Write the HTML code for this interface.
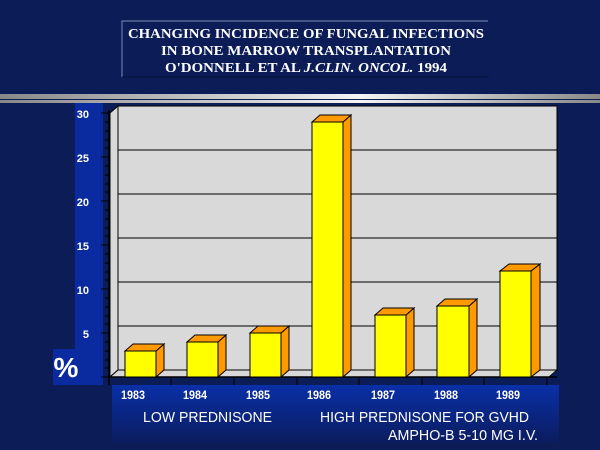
<!DOCTYPE html>
<html><head><style>
body{margin:0;width:600px;height:450px;overflow:hidden;background:#0b1c56;}
</style></head><body>
<svg width="600" height="450" xmlns="http://www.w3.org/2000/svg" style="position:absolute;left:0;top:0">
<defs>
<linearGradient id="sep" x1="0" x2="1"><stop offset="0" stop-color="#888"/><stop offset="0.6" stop-color="#f4f4f4"/><stop offset="1" stop-color="#888"/></linearGradient>
<linearGradient id="bot" x1="0" y1="0" x2="0" y2="1"><stop offset="0" stop-color="#0a30a8"/><stop offset="1" stop-color="#0b1c5e"/></linearGradient>
</defs>
<rect x="0" y="0" width="600" height="450" fill="#0b1c56"/>
<polyline points="122,77 122,21 488,21" fill="none" stroke="#7f8cb8" stroke-width="1"/>
<line x1="122" y1="77" x2="489" y2="77" stroke="#05103a"/>
<g font-family="Liberation Serif, serif" font-weight="bold" font-size="14" fill="#fff" text-anchor="middle">
<text x="306" y="38" textLength="356" lengthAdjust="spacingAndGlyphs">CHANGING INCIDENCE OF FUNGAL INFECTIONS</text>
<text x="306" y="55" textLength="290" lengthAdjust="spacingAndGlyphs">IN BONE MARROW TRANSPLANTATION</text>
<text x="306" y="72" textLength="282" lengthAdjust="spacingAndGlyphs">O'DONNELL ET AL <tspan font-style="italic">J.CLIN. ONCOL.</tspan> 1994</text>
</g>
<rect x="0" y="94" width="600" height="5" fill="url(#sep)"/>
<rect x="0" y="100" width="600" height="3" fill="url(#sep)"/>
<rect x="75" y="103" width="28" height="282" fill="#0a2aa0"/>
<rect x="53" y="349" width="22" height="36" fill="#0a2aa0"/>
<text x="66" y="377" font-family="Liberation Sans, sans-serif" font-weight="bold" font-size="28" fill="#fff" text-anchor="middle">%</text>
<g font-family="Liberation Sans, sans-serif" font-weight="bold" font-size="11" fill="#fff" text-anchor="end">
<text x="89" y="118">30</text><text x="89" y="162">25</text><text x="89" y="206">20</text>
<text x="89" y="250">15</text><text x="89" y="294">10</text><text x="89" y="338">5</text>
</g>
<rect x="103" y="103" width="460" height="282" fill="#0b1c56"/>
<polygon points="110,113 118,106 118,370 110,377" fill="#d8d8d8" stroke="#000" stroke-width="1"/>
<rect x="118" y="106" width="439" height="264" fill="#d9d9d9" stroke="#000" stroke-width="1"/>
<polygon points="110,377 118,370 557,370 549,377" fill="#d8d8d8" stroke="#000" stroke-width="1"/>
<g stroke="#000" stroke-width="1">
<line x1="118" y1="150" x2="557" y2="150"/><line x1="118" y1="194" x2="557" y2="194"/>
<line x1="118" y1="238" x2="557" y2="238"/><line x1="118" y1="282" x2="557" y2="282"/>
<line x1="118" y1="326" x2="557" y2="326"/>
</g>
<rect x="110" y="377" width="447" height="8" fill="#0b1c56"/>
<line x1="109" y1="110" x2="109" y2="385" stroke="#000" stroke-width="1.5"/>
<line x1="109" y1="377" x2="557" y2="377" stroke="#000" stroke-width="1.5"/>
<g stroke="#000" stroke-width="1">
<line x1="101" y1="113" x2="109" y2="113"/><line x1="101" y1="157" x2="109" y2="157"/>
<line x1="101" y1="201" x2="109" y2="201"/><line x1="101" y1="245" x2="109" y2="245"/>
<line x1="101" y1="289" x2="109" y2="289"/><line x1="101" y1="333" x2="109" y2="333"/>
<line x1="101" y1="377" x2="109" y2="377"/>
<line x1="105" y1="122" x2="109" y2="122"/><line x1="105" y1="131" x2="109" y2="131"/><line x1="105" y1="140" x2="109" y2="140"/><line x1="105" y1="148" x2="109" y2="148"/>
<line x1="105" y1="166" x2="109" y2="166"/><line x1="105" y1="175" x2="109" y2="175"/><line x1="105" y1="184" x2="109" y2="184"/><line x1="105" y1="192" x2="109" y2="192"/>
<line x1="105" y1="210" x2="109" y2="210"/><line x1="105" y1="219" x2="109" y2="219"/><line x1="105" y1="228" x2="109" y2="228"/><line x1="105" y1="236" x2="109" y2="236"/>
<line x1="105" y1="254" x2="109" y2="254"/><line x1="105" y1="263" x2="109" y2="263"/><line x1="105" y1="272" x2="109" y2="272"/><line x1="105" y1="280" x2="109" y2="280"/>
<line x1="105" y1="298" x2="109" y2="298"/><line x1="105" y1="307" x2="109" y2="307"/><line x1="105" y1="316" x2="109" y2="316"/><line x1="105" y1="324" x2="109" y2="324"/>
<line x1="105" y1="342" x2="109" y2="342"/><line x1="105" y1="351" x2="109" y2="351"/><line x1="105" y1="360" x2="109" y2="360"/><line x1="105" y1="368" x2="109" y2="368"/>
<line x1="171" y1="377" x2="171" y2="385"/><line x1="234" y1="377" x2="234" y2="385"/><line x1="297" y1="377" x2="297" y2="385"/>
<line x1="359" y1="377" x2="359" y2="385"/><line x1="422" y1="377" x2="422" y2="385"/><line x1="484" y1="377" x2="484" y2="385"/><line x1="547" y1="377" x2="547" y2="385"/>
</g>
<g stroke="#000" stroke-width="1">
<g><polygon points="156,351 164,344 164,370 156,377" fill="#ff9900"/><polygon points="125,351 133,344 164,344 156,351" fill="#ff9900"/><rect x="125" y="351" width="31" height="26" fill="#ffff00"/></g>
<g><polygon points="218,342 226,335 226,370 218,377" fill="#ff9900"/><polygon points="187,342 195,335 226,335 218,342" fill="#ff9900"/><rect x="187" y="342" width="31" height="35" fill="#ffff00"/></g>
<g><polygon points="281,333 289,326 289,370 281,377" fill="#ff9900"/><polygon points="250,333 258,326 289,326 281,333" fill="#ff9900"/><rect x="250" y="333" width="31" height="44" fill="#ffff00"/></g>
<g><polygon points="343,122 351,115 351,370 343,377" fill="#ff9900"/><polygon points="312,122 320,115 351,115 343,122" fill="#ff9900"/><rect x="312" y="122" width="31" height="255" fill="#ffff00"/></g>
<g><polygon points="406,315 414,308 414,370 406,377" fill="#ff9900"/><polygon points="375,315 383,308 414,308 406,315" fill="#ff9900"/><rect x="375" y="315" width="31" height="62" fill="#ffff00"/></g>
<g><polygon points="469,306 477,299 477,370 469,377" fill="#ff9900"/><polygon points="437,306 445,299 477,299 469,306" fill="#ff9900"/><rect x="437" y="306" width="32" height="71" fill="#ffff00"/></g>
<g><polygon points="531,271 540,264 540,370 531,377" fill="#ff9900"/><polygon points="500,271 509,264 540,264 531,271" fill="#ff9900"/><rect x="500" y="271" width="31" height="106" fill="#ffff00"/></g>
</g>
<rect x="112" y="385" width="447" height="58" fill="url(#bot)"/>
<g font-family="Liberation Sans, sans-serif" font-weight="bold" font-size="12" fill="#fff" text-anchor="middle">
<text x="133" y="399" textLength="24" lengthAdjust="spacingAndGlyphs">1983</text><text x="195" y="399" textLength="24" lengthAdjust="spacingAndGlyphs">1984</text><text x="258" y="399" textLength="24" lengthAdjust="spacingAndGlyphs">1985</text>
<text x="319" y="399" textLength="24" lengthAdjust="spacingAndGlyphs">1986</text><text x="383" y="399" textLength="24" lengthAdjust="spacingAndGlyphs">1987</text><text x="446" y="399" textLength="24" lengthAdjust="spacingAndGlyphs">1988</text><text x="508" y="399" textLength="24" lengthAdjust="spacingAndGlyphs">1989</text>
</g>
<g font-family="Liberation Sans, sans-serif" font-size="15" fill="#fff">
<text x="143" y="422" textLength="129" lengthAdjust="spacingAndGlyphs">LOW PREDNISONE</text>
<text x="320" y="422" textLength="209" lengthAdjust="spacingAndGlyphs">HIGH PREDNISONE FOR GVHD</text>
<text x="388" y="440" textLength="150" lengthAdjust="spacingAndGlyphs">AMPHO-B 5-10 MG I.V.</text>
</g>
</svg>
</body></html>
